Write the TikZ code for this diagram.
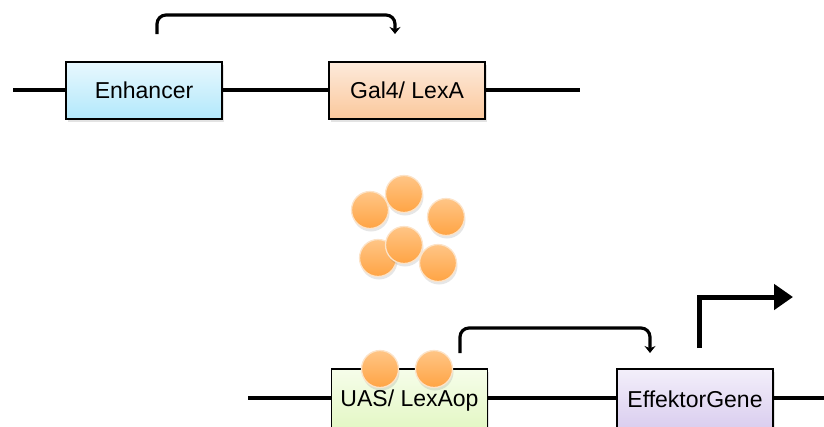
\documentclass[tikz,border=0pt]{standalone}
\usepackage{fontspec}
\setmainfont{Liberation Sans}
\usetikzlibrary{arrows.meta,shadows}
\definecolor{enhtop}{HTML}{E8F8FE}
\definecolor{enhbot}{HTML}{B2E8FB}
\definecolor{galtop}{HTML}{FDEADB}
\definecolor{galbot}{HTML}{FBC89C}
\definecolor{uastop}{HTML}{F6FDEA}
\definecolor{uasbot}{HTML}{E2F7C2}
\definecolor{efftop}{HTML}{F3EFFA}
\definecolor{effbot}{HTML}{D8CBEE}
\definecolor{baltop}{HTML}{FFC586}
\definecolor{balbot}{HTML}{FFA444}
\definecolor{balrim}{HTML}{FCE3C8}
\tikzstyle{gene box}=[
        draw = black,
        line width = 1.4pt,
        minimum width = 156pt,
        minimum height = 57pt,
        inner sep = 0pt,
        drop shadow = {opacity = 0.22, shadow xshift = 1.5pt, shadow yshift = -2.5pt}
    ]
\tikzstyle{ball}=[
    draw = balrim,
    line width = 1.3pt,
    circle,
    minimum size = 37pt,
    inner sep = 0pt,
    top color = baltop,
    bottom color = balbot,
    drop shadow = {opacity = 0.2, shadow xshift = 1pt, shadow yshift = -3pt}
]

\begin{document}
\begin{tikzpicture}[x=1pt, y=-1pt, font=\fontsize{23}{27}\selectfont,
    dna/.style = {line width = 3.6pt},
    loop/.style = {line width = 3.2pt, rounded corners = 9pt, -{Stealth[length = 7pt, width = 11pt]}}]
        \useasboundingbox (0,0) rectangle (824,426);
        \clip (0,0) rectangle (824,426);

        % upper construct
        \coordinate (dnaA) at (13,90);
        \coordinate (dnaB) at (580,90);
        \node[gene box, top color = enhtop, bottom color = enhbot] (enh) at (144,90.5) {Enhancer};
        \node[gene box, top color = galtop, bottom color = galbot] (gal) at (407,90.5) {Gal4/ LexA};
        \draw[dna] (dnaA) -- (enh.west |- dnaA);
        \draw[dna] (enh.east |- dnaA) -- (gal.west |- dnaA);
        \draw[dna] (gal.east |- dnaA) -- (dnaB);

        \coordinate (enhout) at (157,34);
        \coordinate (galin) at (395,34);
        \draw[loop] (enhout) -- (157,15) -- (395,15) -- (galin);

        % free transcription factors
        \node[ball] (b1) at (404,194) {};
        \node[ball] (b2) at (370,210) {};
        \node[ball] (b3) at (446,217) {};
        \node[ball] (b4) at (378,258) {};
        \node[ball] (b5) at (404,245) {};
        \node[ball] (b6) at (438,263) {};

        % lower construct
        \coordinate (dnaC) at (248,398);
        \coordinate (dnaD) at (830,398);
        \node[gene box, minimum height = 64pt, top color = uastop, bottom color = uasbot] (uas) at (409.5,401) {\raisebox{-8pt}{UAS/ LexAop}};
        \node[gene box, minimum height = 64pt, top color = efftop, bottom color = effbot] (eff) at (695,401) {\raisebox{4pt}{EffektorGene}};
        \draw[dna] (dnaC) -- (uas.west |- dnaC);
        \draw[dna] (uas.east |- dnaC) -- (eff.west |- dnaC);
        \draw[dna] (eff.east |- dnaC) -- (dnaD);

        \node[ball] (u1) at (380,369) {};
        \node[ball] (u2) at (434,369) {};

        \coordinate (uasout) at (460,353);
        \coordinate (effin) at (650,353);
        \draw[loop] (uasout) -- (460,328) -- (650,328) -- (effin);

        \coordinate (tss) at (699,348);
        \coordinate (tssend) at (793,297);
        \draw[line width = 5pt, -{Triangle[length = 19pt, width = 25pt]}] (tss) |- (tssend);

    \end{tikzpicture}
\end{document}
